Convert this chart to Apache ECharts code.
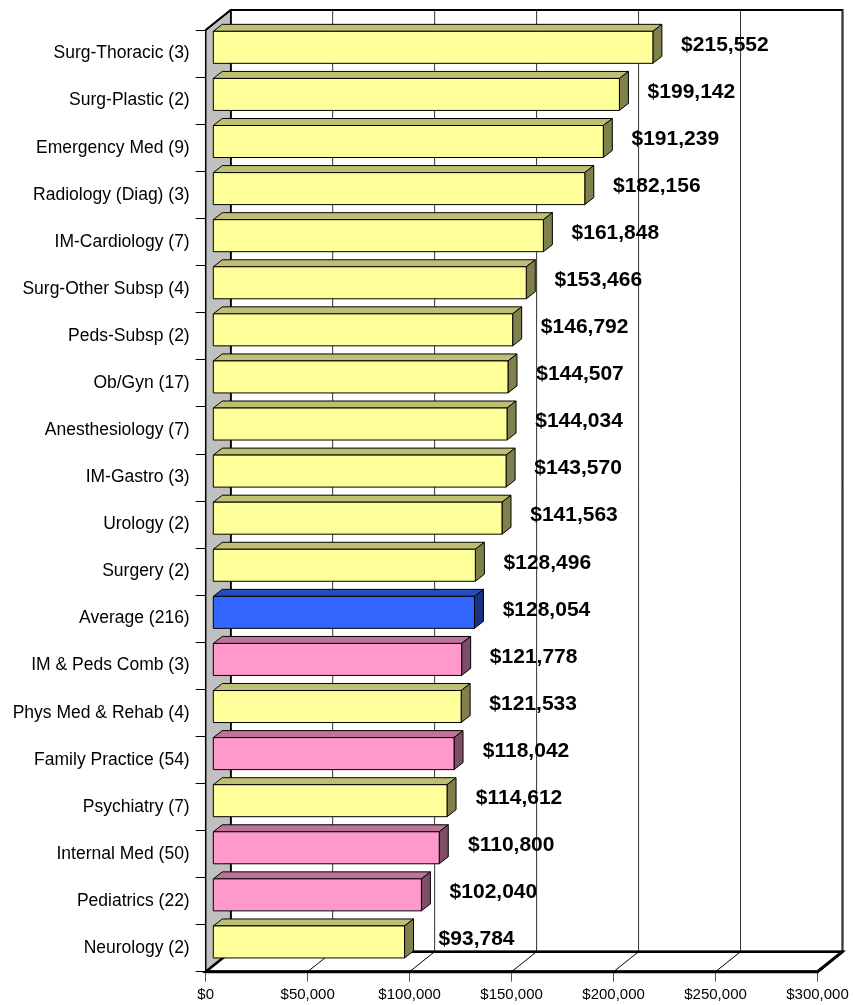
<!DOCTYPE html>
<html>
<head>
<meta charset="utf-8">
<script src="https://cdn.jsdelivr.net/npm/echarts@6/dist/echarts.min.js"></script>
<style>
  html, body { margin: 0; padding: 0; background: #fff; }
  #chart { width: 855px; height: 1005px; }
</style>
</head>
<body>
<div id="chart"></div>
<script>
// Specialty names (with headcount), top to bottom
const categories = [
  'Surg-Thoracic (3)', 'Surg-Plastic (2)', 'Emergency Med (9)', 'Radiology (Diag) (3)',
  'IM-Cardiology (7)', 'Surg-Other Subsp (4)', 'Peds-Subsp (2)', 'Ob/Gyn (17)',
  'Anesthesiology (7)', 'IM-Gastro (3)', 'Urology (2)', 'Surgery (2)', 'Average (216)',
  'IM & Peds Comb (3)', 'Phys Med & Rehab (4)', 'Family Practice (54)', 'Psychiatry (7)',
  'Internal Med (50)', 'Pediatrics (22)', 'Neurology (2)'
];
// Compensation per specialty
const values = [
  215552, 199142, 191239, 182156, 161848, 153466, 146792, 144507, 144034, 143570,
  141563, 128496, 128054, 121778, 121533, 118042, 114612, 110800, 102040, 93784
];
// Group of each specialty: specialty care, overall average, primary care
const groups = [
  'specialty', 'specialty', 'specialty', 'specialty', 'specialty', 'specialty', 'specialty',
  'specialty', 'specialty', 'specialty', 'specialty', 'specialty', 'average', 'primary',
  'specialty', 'primary', 'specialty', 'primary', 'primary', 'specialty'
];
// Value axis ticks
const xTicks = [0, 50000, 100000, 150000, 200000, 250000, 300000];

// Face colours for each group: front, top, side
const palette = {
  specialty: { front: '#FFFF99', top: '#BFBF73', side: '#80804D' },
  average:   { front: '#3366FF', top: '#264DBF', side: '#1A3380' },
  primary:   { front: '#FF99CC', top: '#BF7399', side: '#804D66' }
};

const FONT = "'Liberation Sans', Arial, sans-serif";
// 3D projection offsets
const WALL_DX = 25, WALL_DY = -20;       // depth of the whole plot box
const BAR_OFF_X = 7.6, BAR_OFF_Y = -6.2; // front face of bars behind the front plane
const BAR_DX = 9, BAR_DY = -7;           // bar thickness in depth
const BAR_H = 32;

function money(v) {
  return '$' + v.toLocaleString('en-US');
}

// Walls, floor and back-wall gridlines
function renderFrame(params, api) {
  const cs = params.coordSys;
  const x0 = cs.x, y0 = cs.y, x1 = cs.x + cs.width, y1 = cs.y + cs.height;
  const children = [];
  // back wall
  children.push({
    type: 'rect',
    shape: { x: x0 + WALL_DX, y: y0 + WALL_DY, width: x1 - x0, height: y1 - y0 },
    style: { fill: '#fff', stroke: '#000', lineWidth: 2 }
  });
  // back wall gridlines
  xTicks.forEach(function (t) {
    const x = api.coord([t, 0])[0] + WALL_DX;
    children.push({
      type: 'line',
      shape: { x1: x, y1: y0 + WALL_DY, x2: x, y2: y1 + WALL_DY },
      style: { stroke: '#333', lineWidth: 1 }
    });
  });
  // left side wall
  children.push({
    type: 'polygon',
    shape: { points: [[x0, y0], [x0 + WALL_DX, y0 + WALL_DY], [x0 + WALL_DX, y1 + WALL_DY], [x0, y1]] },
    style: { fill: '#C0C0C0', stroke: '#000', lineWidth: 1.5 }
  });
  // floor
  children.push({
    type: 'polygon',
    shape: { points: [[x0, y1], [x0 + WALL_DX, y1 + WALL_DY], [x1 + WALL_DX, y1 + WALL_DY], [x1, y1]] },
    style: { fill: '#fff', stroke: '#000', lineWidth: 2.5 }
  });
  // floor gridlines
  xTicks.forEach(function (t) {
    const x = api.coord([t, 0])[0];
    children.push({
      type: 'line',
      shape: { x1: x, y1: y1, x2: x + WALL_DX, y2: y1 + WALL_DY },
      style: { stroke: '#000', lineWidth: 1 }
    });
  });
  // thick front and right edges of the floor
  children.push({
    type: 'polyline',
    shape: { points: [[x0, y1], [x1, y1], [x1 + WALL_DX, y1 + WALL_DY]] },
    style: { fill: null, stroke: '#000', lineWidth: 3 }
  });
  children.push({
    type: 'polyline',
    shape: { points: [[x0, y0], [x0 + WALL_DX, y0 + WALL_DY]] },
    style: { fill: null, stroke: '#000', lineWidth: 2 }
  });
  return { type: 'group', children: children };
}

// One 3D bar: front, top and side faces plus its value label
function renderBar(params, api) {
  const idx = api.value(0);
  const v = api.value(1);
  const c0 = api.coord([0, idx]);
  const c1 = api.coord([v, idx]);
  const fx0 = c0[0] + BAR_OFF_X;
  const fx1 = c1[0] + BAR_OFF_X;
  const cy = c0[1] + BAR_OFF_Y;
  const top = cy - BAR_H / 2, bot = cy + BAR_H / 2;
  const col = palette[groups[idx]];
  return {
    type: 'group',
    children: [
      {
        type: 'polygon',
        shape: { points: [[fx0, top], [fx0 + BAR_DX, top + BAR_DY], [fx1 + BAR_DX, top + BAR_DY], [fx1, top]] },
        style: { fill: col.top, stroke: '#000', lineWidth: 1 }
      },
      {
        type: 'polygon',
        shape: { points: [[fx1, top], [fx1 + BAR_DX, top + BAR_DY], [fx1 + BAR_DX, bot + BAR_DY], [fx1, bot]] },
        style: { fill: col.side, stroke: '#000', lineWidth: 1 }
      },
      {
        type: 'rect',
        shape: { x: fx0, y: top, width: fx1 - fx0, height: BAR_H },
        style: { fill: col.front, stroke: '#000', lineWidth: 1 }
      },
      {
        type: 'text',
        style: {
          text: money(v),
          x: fx1 + 72,
          y: cy - 2.5,
          fill: '#000',
          font: 'bold 21px ' + FONT,
          align: 'center',
          verticalAlign: 'middle'
        }
      }
    ]
  };
}

const chart = echarts.init(document.getElementById('chart'), null, { renderer: 'canvas' });
chart.setOption({
  animation: false,
  backgroundColor: '#fff',
  grid: { left: 205.7, right: 37.5, top: 30, bottom: 33.3, containLabel: false },
  xAxis: {
    type: 'value',
    min: 0,
    max: 300000,
    interval: 50000,
    axisLine: { show: false },
    axisTick: { show: true, length: 10, lineStyle: { color: '#555', width: 1 } },
    splitLine: { show: false },
    axisLabel: {
      margin: 16,
      color: '#000',
      fontSize: 15,
      fontFamily: FONT,
      formatter: function (v) { return money(v); }
    }
  },
  yAxis: {
    type: 'category',
    inverse: true,
    data: categories,
    axisLine: { show: true, lineStyle: { color: '#000', width: 1 } },
    axisTick: { show: true, length: 10, lineStyle: { color: '#000', width: 1 } },
    splitLine: { show: false },
    axisLabel: { margin: 16, color: '#000', fontSize: 17.5, fontFamily: FONT }
  },
  series: [
    {
      type: 'custom',
      name: 'frame',
      renderItem: renderFrame,
      data: [[0, 0]],
      encode: { x: 0, y: 1 },
      silent: true,
      clip: false,
      z: 1
    },
    {
      type: 'custom',
      name: 'Compensation',
      renderItem: renderBar,
      data: values.map(function (v, i) { return [i, v]; }),
      encode: { y: 0, x: 1 },
      clip: false,
      z: 5
    }
  ]
});
</script>
</body>
</html>
